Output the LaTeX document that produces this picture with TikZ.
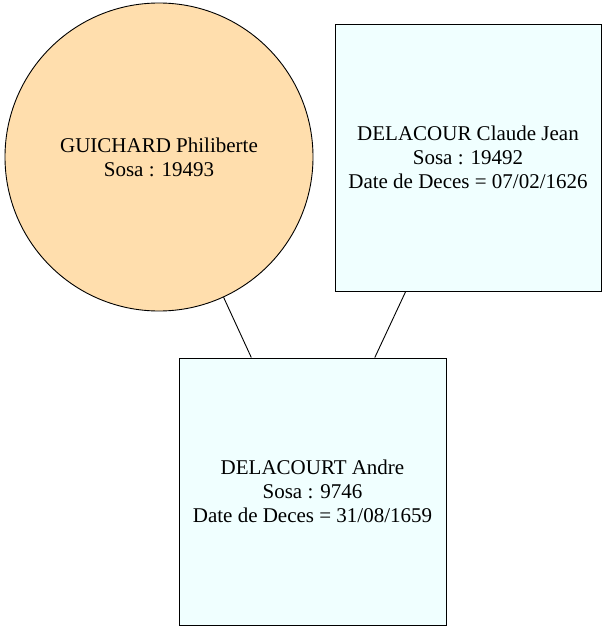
\documentclass[tikz,border=0pt]{standalone}
\usepackage{fontspec}
\setmainfont{Liberation Serif}
\usetikzlibrary{calc}
\definecolor{navajo}{HTML}{FFDEAD}
\definecolor{azurebox}{HTML}{F0FFFF}
\tikzset{
	person/.style={draw=black, line width=0.9pt, align=center, inner sep=0pt, font=\fontsize{21}{24}\selectfont},
	female/.style={person, circle, fill=navajo, minimum size=308pt},
	male/.style={person, rectangle, fill=azurebox, minimum width=266pt, minimum height=267pt},
	link/.style={line width=0.9pt, color=black}
}

\begin{document}
\begin{tikzpicture}[x=1pt, y=-1pt]
		%%%%% START %%%%%
		
		\useasboundingbox (0, 0) rectangle (607, 631);
		
		\node[female] (guichard) at (159, 157) {GUICHARD Philiberte\\Sosa : 19493};
		\node[male] (claude) at (468, 157.5) {DELACOUR Claude Jean\\Sosa : 19492\\Date de Deces = 07/02/1626};
		\node[male, minimum width=267pt] (andre) at (312.5, 491.5) {DELACOURT Andre\\Sosa : 9746\\Date de Deces = 31/08/1659};
		
		\draw[link] (guichard) -- (andre);
		\draw[link] (claude) -- (andre);
		
		%%%%% END %%%%%
	\end{tikzpicture}
\end{document}
